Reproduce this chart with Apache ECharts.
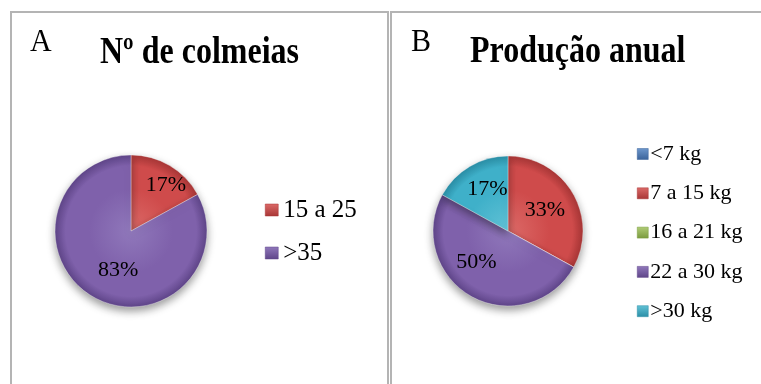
<!DOCTYPE html>
<html>
<head>
<meta charset="utf-8">
<title>Colmeias e produção anual</title>
<script src="https://cdn.jsdelivr.net/npm/echarts@6/dist/echarts.min.js"></script>
<style>
  html, body { margin: 0; padding: 0; background: #fff; }
  #chart { width: 761px; height: 384px; }
</style>
</head>
<body>
<div id="chart"></div>
<script>
// Panel A: number of hives per apiary
const hiveCategories = ['15 a 25', '>35'];
const hiveShares = [17, 83];

// Panel B: yearly honey production per apiary
const productionCategories = ['<7 kg', '7 a 15 kg', '16 a 21 kg', '22 a 30 kg', '>30 kg'];
const productionShares = [0, 33, 0, 50, 17];

const panelTitles = ['Nº de colmeias', 'Produção anual'];
const panelLetters = ['A', 'B'];

// Office-style palette (base, light, dark) keyed by category
const palette = {
  '15 a 25':    ['#cf4b4b', '#dc6a68', '#a83636'],
  '>35':        ['#7f61ab', '#9078bb', '#5f4589'],
  '<7 kg':      ['#4f81bd', '#6d97cc', '#3a639a'],
  '7 a 15 kg':  ['#cf4b4b', '#dc6a68', '#a83636'],
  '16 a 21 kg': ['#9bbb59', '#b0cc76', '#7a9a3e'],
  '22 a 30 kg': ['#7f61ab', '#9078bb', '#5f4589'],
  '>30 kg':     ['#3fb0c9', '#62c2d6', '#2a8ea6']
};

const SERIF = '"Liberation Serif", "Times New Roman", serif';
const pieA = { cx: 131, cy: 231, r: 76 };
const pieB = { cx: 508, cy: 231, r: 75 };

// small nudges so the percentages sit where they read best inside each slice
const labelNudgeA = [[14, -10], [8, 4]];
const labelNudgeB = [[0, 0], [2, 0], [0, 0], [-12, -4], [0, -7]];

function sliceFill(name, pie) {
  const c = palette[name];
  return {
    type: 'radial', x: pie.cx, y: pie.cy, r: pie.r, global: true,
    colorStops: [
      { offset: 0, color: c[1] },
      { offset: 0.55, color: c[0] },
      { offset: 0.86, color: c[0] },
      { offset: 1, color: c[2] }
    ]
  };
}

function buildData(cats, vals, pie, nudges) {
  return cats.map((name, i) => ({
    name: name,
    value: vals[i],
    itemStyle: { color: sliceFill(name, pie) },
    label: { offset: nudges[i] }
  }));
}

function legendData(cats) {
  return cats.map(name => ({
    name: name,
    itemStyle: {
      color: {
        type: 'linear', x: 0, y: 0, x2: 0, y2: 1,
        colorStops: [
          { offset: 0, color: palette[name][1] },
          { offset: 1, color: palette[name][2] }
        ]
      },
      borderColor: palette[name][2],
      borderWidth: 0.5
    }
  }));
}

function pieSeries(name, cats, vals, pie, nudges, fontSize) {
  return {
    type: 'pie',
    name: name,
    center: [pie.cx, pie.cy],
    radius: [0, pie.r],
    startAngle: 90,
    clockwise: true,
    avoidLabelOverlap: false,
    silent: true,
    itemStyle: {
      borderColor: 'rgba(255,255,255,0.35)',
      borderWidth: 1,
      shadowBlur: 9,
      shadowOffsetY: 4,
      shadowColor: 'rgba(0,0,0,0.4)'
    },
    label: {
      show: true,
      position: 'inside',
      formatter: p => (p.value ? p.value + '%' : ''),
      fontFamily: SERIF,
      fontSize: fontSize,
      color: '#000'
    },
    labelLine: { show: false },
    emphasis: { disabled: true },
    data: buildData(cats, vals, pie, nudges)
  };
}

const chart = echarts.init(document.getElementById('chart'), null, { renderer: 'canvas' });

chart.setOption({
  backgroundColor: '#ffffff',
  animation: false,
  legend: [
    {
      orient: 'vertical',
      left: 265,
      top: 197,
      padding: 0,
      icon: 'rect',
      itemWidth: 13,
      itemHeight: 12,
      itemGap: 17,
      selectedMode: false,
      textStyle: { fontFamily: SERIF, fontSize: 25, lineHeight: 26, color: '#000' },
      data: legendData(hiveCategories)
    },
    {
      orient: 'vertical',
      left: 637,
      top: 142,
      padding: 0,
      icon: 'rect',
      itemWidth: 11,
      itemHeight: 11,
      itemGap: 15.3,
      selectedMode: false,
      textStyle: { fontFamily: SERIF, fontSize: 22, lineHeight: 24, color: '#000', padding: [0, 0, 0, -3] },
      data: legendData(productionCategories)
    }
  ],
  series: [
    pieSeries('Nº de colmeias', hiveCategories, hiveShares, pieA, labelNudgeA, 22),
    pieSeries('Produção anual', productionCategories, productionShares, pieB, labelNudgeB, 22)
  ],
  graphic: [
    // panel frames
    { type: 'rect', z: -10, shape: { x: 11, y: 12, width: 377, height: 400 },
      style: { fill: 'none', stroke: '#b4b4b4', lineWidth: 2 } },
    { type: 'rect', z: -10, shape: { x: 391, y: 12, width: 400, height: 400 },
      style: { fill: 'none', stroke: '#b4b4b4', lineWidth: 2 } },
    // panel letters
    { type: 'text', x: 30, y: 42, scaleY: 1.08,
      style: { text: panelLetters[0], font: '30px ' + SERIF, fill: '#000', textVerticalAlign: 'middle' } },
    { type: 'text', x: 411, y: 42, scaleY: 1.08,
      style: { text: panelLetters[1], font: '30px ' + SERIF, fill: '#000', textVerticalAlign: 'middle' } },
    // panel titles
    { type: 'text', x: 100, y: 53, scaleY: 1.16,
      style: { text: panelTitles[0], font: 'bold 32px ' + SERIF, fill: '#000', textVerticalAlign: 'middle' } },
    { type: 'text', x: 470, y: 52, scaleY: 1.16,
      style: { text: panelTitles[1], font: 'bold 32px ' + SERIF, fill: '#000', textVerticalAlign: 'middle' } }
  ]
});
</script>
</body>
</html>
